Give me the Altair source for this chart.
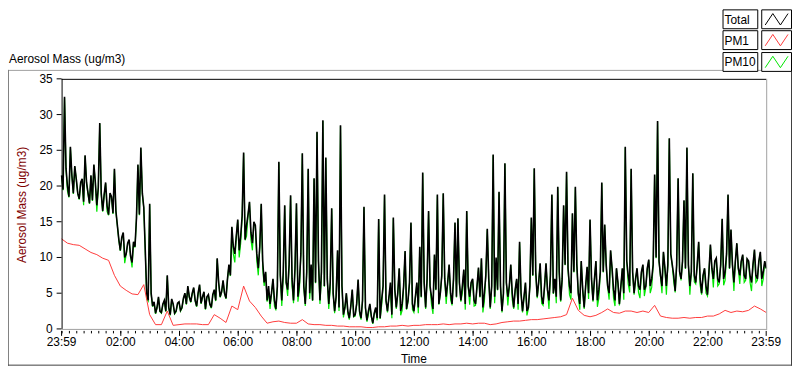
import altair as alt
import pandas as pd

# ---------------- data ----------------
# Total and PM10 readings; "even" lists at 23:59 + 6k minutes,
# "odd" lists at 23:59 + 6k + 3 minutes
total_even = [
    21.5, 32.5, 20.0, 25.5, 19.0, 21.0, 18.2, 21.0, 24.3, 19.0,
    21.5, 23.0, 17.3, 28.8, 16.5, 20.5, 16.0, 18.5, 22.4, 14.5,
    11.0, 13.5, 10.5, 12.5, 9.3, 11.5, 23.0, 25.4, 17.0, 4.8,
    17.5, 3.2, 2.2, 4.5, 2.3, 4.0, 7.5, 2.0, 3.5, 2.5,
    3.8, 3.0, 5.0, 6.0, 3.8, 5.8, 3.2, 6.2, 4.5, 2.8,
    4.8, 3.0, 5.5, 9.9, 4.5, 6.8, 4.3, 9.0, 14.3, 10.5,
    15.3, 13.0, 24.7, 14.5, 17.8, 12.0, 14.5, 8.5, 17.5, 6.5,
    4.0, 3.5, 7.0, 2.8, 23.4, 4.0, 17.3, 5.5, 18.7, 4.0,
    17.6, 6.5, 24.6, 3.5, 22.4, 9.0, 21.1, 27.6, 4.0, 29.2,
    24.0, 3.5, 16.9, 2.5, 11.0, 28.5, 2.0, 5.0, 1.5, 5.5,
    2.0, 6.9, 1.5, 17.1, 1.2, 3.5, 0.8, 3.0, 15.4, 4.0,
    18.8, 2.5, 6.5, 15.6, 3.0, 8.5, 3.5, 10.9, 4.0, 14.9,
    2.5, 6.5, 11.5, 21.9, 3.0, 16.5, 4.5, 10.4, 18.8, 5.0,
    19.0, 4.5, 9.0, 3.5, 14.9, 15.5, 4.0, 8.3, 16.5, 4.5,
    7.0, 3.5, 8.6, 9.9, 5.0, 14.0, 3.0, 24.4, 10.0, 19.2,
    2.5, 23.2, 4.5, 9.0, 3.0, 7.0, 12.2, 2.5, 6.5, 3.0,
    15.6, 22.5, 4.5, 9.2, 3.5, 9.2, 4.0, 18.8, 7.0, 19.9,
    4.0, 17.3, 22.0, 6.0, 16.2, 19.9, 5.0, 9.5, 3.0, 8.7,
    15.3, 4.0, 9.5, 5.5, 20.5, 14.6, 6.0, 11.0, 5.5, 8.5,
    3.5, 8.5, 25.5, 7.5, 22.4, 5.0, 8.5, 5.5, 9.0, 6.0,
    9.7, 7.0, 21.6, 29.1, 7.5, 10.8, 6.0, 26.7, 9.0, 5.3,
    21.1, 7.0, 18.0, 25.4, 6.0, 21.8, 6.5, 12.2, 5.0, 8.5,
    4.8, 11.8, 7.0, 9.9, 6.5, 15.4, 8.0, 18.8, 13.9, 6.5,
    12.0, 7.5, 10.4, 7.0, 9.5, 6.5, 11.1, 7.0, 10.8, 8.0,
    8.5,
]
total_odd = [
    19.5, 22.5, 18.5, 21.5, 22.8, 19.0, 20.5, 17.8, 20.5, 17.6,
    18.0, 20.5, 19.8, 19.0, 18.8, 17.2, 19.0, 16.2, 16.5, 12.5,
    12.8, 10.0, 12.0, 10.2, 12.2, 15.5, 16.0, 19.0, 11.0, 4.0,
    5.0, 3.8, 3.0, 2.5, 3.5, 2.5, 3.0, 4.2, 2.2, 3.6,
    2.6, 4.3, 3.5, 4.5, 5.0, 4.0, 5.0, 3.6, 5.2, 4.5,
    3.5, 4.8, 4.0, 6.5, 5.2, 5.0, 7.0, 7.5, 11.5, 13.0,
    11.0, 15.8, 12.5, 16.0, 13.5, 15.0, 10.5, 11.5, 9.5, 8.0,
    6.0, 5.0, 4.0, 6.0, 7.5, 8.0, 6.5, 9.0, 7.0, 8.5,
    4.5, 10.5, 6.0, 8.0, 5.0, 4.0, 6.5, 9.5, 8.0, 6.0,
    7.0, 6.5, 5.0, 4.5, 3.0, 6.0, 3.0, 2.5, 3.2, 1.8,
    3.5, 2.5, 4.0, 3.0, 2.5, 1.8, 2.2, 1.5, 1.5, 6.0,
    4.0, 4.5, 2.0, 5.5, 5.0, 2.5, 6.0, 2.8, 6.5, 3.5,
    4.5, 3.0, 4.5, 6.5, 7.0, 6.0, 2.8, 5.5, 3.5, 7.5,
    7.0, 6.5, 5.0, 7.0, 4.5, 6.5, 6.0, 3.5, 6.0, 6.5,
    4.0, 6.0, 4.5, 3.0, 7.5, 7.0, 6.0, 4.5, 5.5, 6.0,
    5.0, 6.5, 6.0, 5.0, 5.5, 3.5, 5.0, 4.5, 2.5, 6.0,
    7.5, 8.0, 6.5, 4.5, 6.0, 5.5, 7.5, 5.0, 4.5, 8.0,
    7.0, 9.0, 8.5, 5.0, 8.0, 9.0, 3.5, 5.5, 6.0, 5.0,
    7.0, 7.0, 4.0, 8.0, 8.0, 9.0, 5.0, 8.5, 4.0, 6.5,
    6.0, 5.0, 9.5, 6.0, 8.0, 7.0, 6.0, 8.0, 5.5, 8.5,
    6.0, 9.0, 10.0, 9.5, 6.0, 8.5, 9.0, 10.5, 7.5, 9.0,
    8.0, 9.5, 8.5, 9.0, 8.0, 7.5, 9.0, 7.0, 7.5, 6.0,
    8.0, 8.5, 9.5, 7.0, 9.0, 7.0, 10.5, 8.5, 9.0, 9.5,
    8.5, 9.5, 7.5, 9.8, 7.5, 9.0, 7.5, 9.5, 7.0, 9.5,
]

pm10_even = [
    21.4, 32.3, 19.3, 25.4, 18.9, 20.9, 18.1, 20.9, 24.2, 18.9,
    21.4, 22.9, 16.4, 28.7, 16.4, 20.4, 15.9, 18.4, 22.3, 14.4,
    10.9, 13.4, 10.4, 12.4, 8.6, 11.4, 22.9, 25.3, 16.9, 4.2,
    17.4, 3.1, 2.1, 4.4, 2.2, 3.9, 7.4, 1.9, 3.4, 2.4,
    3.7, 2.9, 4.9, 5.9, 3.7, 5.7, 3.1, 6.1, 4.4, 2.7,
    4.7, 2.9, 5.4, 9.8, 4.4, 6.7, 4.2, 8.9, 14.2, 9.3,
    15.2, 12.0, 24.6, 13.0, 17.7, 11.0, 14.4, 7.5, 17.4, 6.0,
    3.8, 2.8, 6.9, 2.6, 23.3, 3.2, 17.2, 4.6, 18.6, 3.6,
    17.5, 5.5, 24.5, 3.2, 22.3, 7.8, 21.0, 27.5, 3.5, 29.1,
    23.9, 2.8, 16.8, 2.2, 10.9, 28.4, 1.6, 4.9, 1.3, 5.4,
    1.8, 6.8, 1.3, 17.0, 1.0, 3.4, 0.7, 2.9, 15.3, 3.2,
    18.7, 2.3, 5.4, 15.5, 2.8, 8.4, 2.6, 10.8, 3.8, 14.8,
    2.3, 6.4, 11.4, 21.8, 2.8, 16.4, 3.4, 10.3, 18.7, 4.8,
    18.9, 3.5, 8.9, 3.3, 14.8, 15.4, 3.8, 8.2, 16.4, 3.4,
    6.9, 3.3, 8.5, 9.8, 3.8, 13.9, 2.8, 24.3, 8.8, 19.1,
    2.3, 23.1, 3.3, 8.9, 2.8, 6.9, 12.1, 2.3, 6.4, 2.8,
    15.5, 22.4, 4.3, 9.1, 3.3, 9.1, 2.8, 18.7, 6.9, 19.8,
    3.8, 17.2, 21.9, 4.8, 16.1, 19.8, 4.8, 9.4, 2.8, 8.6,
    15.2, 3.8, 9.4, 4.3, 20.4, 14.5, 5.8, 10.9, 4.3, 8.4,
    3.3, 8.4, 25.4, 6.3, 22.3, 4.8, 8.4, 4.3, 8.9, 5.8,
    9.6, 5.8, 21.5, 29.0, 7.3, 10.7, 4.8, 26.6, 8.9, 5.1,
    21.0, 6.8, 17.9, 25.3, 4.8, 21.7, 6.3, 12.1, 4.8, 8.4,
    4.6, 11.7, 5.8, 9.8, 6.3, 15.3, 6.8, 18.7, 13.8, 5.3,
    11.9, 6.3, 10.3, 6.8, 9.4, 5.3, 11.0, 6.8, 10.7, 7.0,
    8.4,
]
pm10_odd = [
    19.4, 22.4, 18.4, 21.4, 22.7, 18.9, 20.4, 17.3, 20.4, 17.5,
    17.9, 20.4, 19.7, 18.9, 18.7, 16.4, 18.9, 16.1, 16.4, 12.4,
    12.7, 9.2, 11.9, 10.1, 12.1, 15.4, 15.9, 18.9, 10.9, 3.9,
    4.9, 3.7, 2.9, 2.4, 3.4, 2.4, 2.9, 4.1, 2.1, 3.5,
    2.5, 4.2, 3.4, 4.4, 4.9, 3.9, 4.9, 3.5, 5.1, 4.4,
    3.4, 4.7, 3.9, 6.4, 5.1, 4.9, 6.9, 7.4, 10.5, 12.9,
    10.0, 15.7, 12.4, 15.9, 12.5, 14.9, 9.5, 11.4, 8.5, 7.9,
    5.2, 4.9, 3.2, 5.9, 7.4, 7.2, 6.4, 8.9, 6.0, 8.4,
    3.8, 10.4, 5.9, 7.9, 4.2, 3.9, 6.4, 9.4, 7.2, 5.9,
    6.9, 5.7, 4.9, 4.4, 2.5, 5.9, 2.9, 2.1, 3.1, 1.7,
    3.4, 2.1, 3.9, 2.9, 2.0, 1.7, 2.1, 1.2, 1.4, 5.9,
    3.9, 4.4, 1.5, 5.4, 4.9, 1.9, 5.9, 2.7, 6.4, 2.7,
    4.4, 2.2, 4.4, 6.4, 6.9, 5.9, 2.1, 5.4, 3.4, 7.4,
    6.9, 6.4, 4.1, 6.9, 4.4, 6.4, 5.0, 2.7, 5.9, 6.4,
    3.2, 5.9, 4.4, 2.3, 7.4, 6.9, 5.9, 3.6, 5.4, 5.9,
    4.9, 6.4, 5.9, 4.1, 5.4, 2.7, 4.9, 4.4, 1.9, 5.9,
    7.4, 7.9, 6.4, 3.6, 5.9, 5.4, 7.4, 4.9, 3.6, 7.9,
    6.9, 8.9, 8.4, 4.1, 7.9, 8.9, 2.7, 5.4, 5.9, 4.2,
    6.9, 6.9, 3.1, 7.9, 7.9, 8.9, 4.1, 8.4, 3.2, 6.4,
    5.9, 4.1, 9.4, 5.1, 7.9, 6.9, 5.1, 7.9, 4.6, 8.4,
    5.0, 8.9, 9.9, 9.4, 5.0, 8.4, 8.9, 10.4, 6.6, 8.9,
    7.9, 9.4, 8.4, 8.9, 7.9, 6.6, 8.9, 6.1, 7.4, 5.0,
    7.9, 8.4, 9.4, 6.0, 8.9, 6.1, 10.4, 8.4, 8.9, 9.4,
    8.4, 9.4, 6.5, 9.7, 6.5, 8.9, 6.5, 9.4, 6.0, 9.4,
]

# PM1: one reading every 12 minutes, starting 23:59
pm1 = [
    12.6, 12.0, 11.8, 11.7, 11.2, 10.7, 10.4, 9.9, 9.6, 7.5,
    6.0, 5.4, 4.9, 4.8, 6.2, 2.0, 0.6, 0.6, 2.5, 0.5,
    0.6, 0.7, 0.7, 0.7, 0.6, 0.6, 2.0, 1.5, 0.9, 3.2,
    2.7, 6.0, 3.9, 3.0, 1.8, 0.8, 1.0, 1.1, 0.9, 0.8,
    0.8, 1.3, 0.7, 0.6, 0.6, 0.5, 0.5, 0.4, 0.4, 0.3,
    0.3, 0.3, 0.2, 0.2, 0.3, 0.3, 0.4, 0.4, 0.5, 0.4,
    0.5, 0.5, 0.6, 0.6, 0.6, 0.7, 0.6, 0.7, 0.7, 0.8,
    0.7, 0.8, 0.8, 0.6, 0.7, 0.9, 1.0, 1.1, 1.1, 1.2,
    1.3, 1.3, 1.4, 1.5, 1.6, 1.7, 2.0, 4.3, 2.6, 1.9,
    1.7, 1.9, 2.3, 2.8, 2.3, 2.2, 2.5, 2.5, 2.3, 2.5,
    2.3, 3.3, 1.8, 1.6, 1.5, 1.5, 1.6, 1.5, 1.6, 1.6,
    1.8, 1.8, 2.1, 2.6, 2.3, 2.5, 2.4, 2.6, 3.2, 2.8,
    2.3,
]

# axis ticks (minutes after 23:59) and their labels
major_ticks = [0, 121, 241, 361, 481, 601, 721, 841, 961, 1081, 1201, 1321, 1440]
x_labels = ["23:59", "02:00", "04:00", "06:00", "08:00", "10:00", "12:00",
            "14:00", "16:00", "18:00", "20:00", "22:00", "23:59"]
minor_ticks = [1 + 15 * m for m in range(96)]
y_ticks = [0, 5, 10, 15, 20, 25, 30, 35]

legend_names = ["Total", "PM1", "PM10"]
legend_colors = ["#000000", "#ff3b3b", "#00e600"]

# ---------------- chart ----------------
W, H = 710, 252
FONT = "Liberation Sans"

t_even = [6 * i for i in range(len(total_even))]
t_odd = [6 * i + 3 for i in range(len(total_odd))]
df_main = pd.concat([
    pd.DataFrame({"t": t_even, "Total": total_even, "PM10": pm10_even}),
    pd.DataFrame({"t": t_odd, "Total": total_odd, "PM10": pm10_odd}),
]).sort_values("t").reset_index(drop=True)
df_pm1 = pd.DataFrame({"t": [12 * i for i in range(len(pm1))], "PM1": pm1})
df_minor = pd.DataFrame({"m": minor_ticks})
df_xl = pd.DataFrame({"t": major_ticks, "lab": x_labels})
df_yl = pd.DataFrame({"v": y_ticks})
one = alt.Data(values=[{"a": 1}])

xscale = alt.Scale(domain=[0, 1440], nice=False, zero=False)
yscale = alt.Scale(domain=[0, 35], nice=False, zero=False)


def X(field):
    return alt.X(field, scale=xscale, axis=None)


def Y(field):
    return alt.Y(field, scale=yscale, axis=None)


green = alt.Chart(df_main).mark_line(color="#00e600", strokeWidth=1.2).encode(
    x=X("t:Q"), y=Y("PM10:Q"))
black = alt.Chart(df_main).mark_line(color="#000000", strokeWidth=1.6).encode(
    x=X("t:Q"), y=Y("Total:Q"))
red = alt.Chart(df_pm1).mark_line(color="#ff3b3b", strokeWidth=1).encode(
    x=X("t:Q"), y=Y("PM1:Q"))

# axes drawn from the tick arrays
minor = alt.Chart(df_minor).mark_rule(color="#000000", strokeWidth=1).encode(
    x=X("m:Q"), y=alt.value(H + 2), y2=alt.value(H + 4.5))
xtick = alt.Chart(df_xl).mark_rule(color="#000000", strokeWidth=1).encode(
    x=X("t:Q"), y=alt.value(H + 2), y2=alt.value(H + 7))
xlab = alt.Chart(df_xl).mark_text(
    align="center", baseline="top", font=FONT, fontSize=12, color="#000000"
).encode(x=X("t:Q"), y=alt.value(H + 8), text="lab:N")
ytick = alt.Chart(df_yl).mark_rule(color="#000000", strokeWidth=1).encode(
    y=Y("v:Q"), x=alt.value(-5), x2=alt.value(0))
ylab = alt.Chart(df_yl).mark_text(
    align="right", baseline="middle", font=FONT, fontSize=12, color="#000000"
).encode(y=Y("v:Q"), x=alt.value(-9), text="v:Q")
ytitle = alt.Chart(one).mark_text(
    angle=270, align="center", baseline="middle", font=FONT, fontSize=12, color="#800000"
).encode(x=alt.value(-40), y=alt.value(127), text=alt.value("Aerosol Mass (ug/m3)"))
xtitle = alt.Chart(one).mark_text(
    align="center", baseline="middle", font=FONT, fontSize=12, color="#000000"
).encode(x=alt.value(355), y=alt.value(282), text=alt.value("Time"))


def hline(y, x1, x2, color):
    return alt.Chart(one).mark_rule(color=color, strokeWidth=1).encode(
        x=alt.value(x1), x2=alt.value(x2), y=alt.value(y))


def vline(x, y1, y2, color):
    return alt.Chart(one).mark_rule(color=color, strokeWidth=1).encode(
        x=alt.value(x), y=alt.value(y1), y2=alt.value(y2))


frame = [
    hline(-8.5, -54, 736, "#a0a0a0"),
    vline(-53.5, -9, 289, "#808080"),
    hline(288.5, -54, 736, "#404040"),
    vline(735.5, -9, 289, "#404040"),
    hline(0.5, 0, W, "#000000"),
    vline(0.5, 0, H, "#000000"),
    hline(H + 0.5, 0, W + 1, "#a0a0a0"),
    vline(W + 0.5, 0, H, "#a0a0a0"),
]

title = alt.Chart(one).mark_text(
    align="left", baseline="middle", font=FONT, fontSize=12, color="#000000"
).encode(x=alt.value(-53), y=alt.value(-20), text=alt.value("Aerosol Mass (ug/m3)"))

zigzag = "M-1,0.5L-0.333,-0.5L0.333,0.5L1,-0.5"
legend = []
row_tops = [-70, -49, -27]
for name, col, top in zip(legend_names, legend_colors, row_tops):
    legend.append(alt.Chart(one).mark_rect(fill="white", stroke="#000000", strokeWidth=1).encode(
        x=alt.value(666.5), x2=alt.value(701.5), y=alt.value(top + 0.5), y2=alt.value(top + 19.5)))
    legend.append(alt.Chart(one).mark_rect(fill="white", stroke="#000000", strokeWidth=1).encode(
        x=alt.value(705.5), x2=alt.value(735.5), y=alt.value(top + 0.5), y2=alt.value(top + 19.5)))
    legend.append(alt.Chart(one).mark_text(
        align="left", baseline="middle", font=FONT, fontSize=12, color="#000000"
    ).encode(x=alt.value(668), y=alt.value(top + 10.5), text=alt.value(name)))
    legend.append(alt.Chart(one).mark_point(
        shape=zigzag, filled=False, color=col, strokeWidth=1, size=529, opacity=1
    ).encode(x=alt.value(720.5), y=alt.value(top + 10)))

chart = alt.layer(
    green, black, red, minor, xtick, xlab, ytick, ylab, ytitle, xtitle,
    *frame, title, *legend
).properties(
    width=W, height=H,
    autosize=alt.AutoSizeParams(type="none"),
    padding={"left": 54, "top": 70, "right": 26, "bottom": 39},
).configure_view(stroke=None)

chart.save("out.html", embed_options={"renderer": "svg", "actions": False})
